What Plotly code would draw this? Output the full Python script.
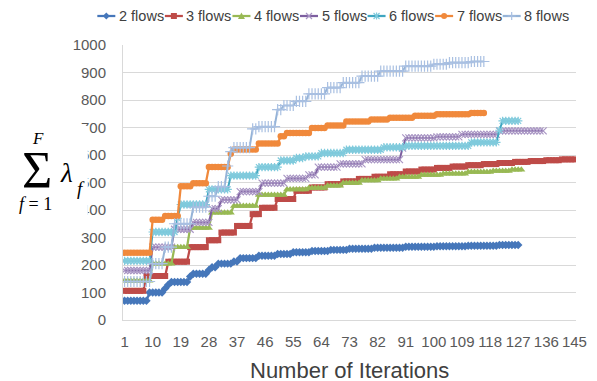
import plotly.graph_objects as go

# ---------------- data ----------------
series_names = ["2 flows", "3 flows", "4 flows", "5 flows", "6 flows", "7 flows", "8 flows"]

flows2 = (
    [70, 70, 70, 70, 70, 70, 70, 70]
    + [100, 100, 100, 100, 100]
    + [115, 128]
    + [138, 138, 138, 138, 138, 138]
    + [158]
    + [168, 168, 168, 168, 168]
    + [182, 192, 192]
    + [205, 205, 205, 205, 205]
    + [213, 213]
    + [225, 225, 225, 225, 225, 225]
    + [234, 234, 234, 234, 234, 234]
    + [240, 240, 240, 240, 240]
    + [246, 246, 246, 246, 246, 246]
    + [251, 251, 251, 251, 251, 251]
    + [255, 255, 255, 255, 255, 255]
    + [259, 259, 259, 259, 259, 259, 259, 259]
    + [263, 263, 263, 263, 263, 263, 263, 263, 263, 263]
    + [266, 266, 266, 266, 266, 266, 266, 266, 266, 266]
    + [268, 268, 268, 268, 268, 268, 268, 268, 268, 268]
    + [270, 270, 270, 270, 270, 270, 270, 270, 270, 270]
    + [273, 273, 273, 273, 273, 273, 273]
)

flows3 = (
    [106, 106, 106, 106, 106, 106, 106]
    + [160, 160, 160, 160, 160, 160, 160]
    + [212, 212, 212, 212, 212, 212, 212]
    + [265, 265, 265, 265, 265, 265]
    + [290, 290, 290, 290]
    + [318, 318, 318, 318, 318]
    + [342, 342, 342, 342, 342]
    + [385, 385, 385]
    + [408, 408, 408, 408, 408]
    + [440, 440, 440, 440, 440, 440]
    + [470, 470, 470, 470, 470]
    + [482, 482, 482, 482, 482]
    + [494, 494, 494, 494, 494]
    + [504, 504, 504, 504, 504]
    + [513, 513, 513, 513, 513]
    + [521, 521, 521, 521, 521]
    + [530, 530, 530, 530, 530]
    + [540, 540, 540, 540, 540]
    + [547, 547, 547, 547, 547]
    + [553, 553, 553, 553, 553]
    + [558, 558, 558, 558, 558]
    + [563, 563, 563, 563, 563]
    + [567, 567, 567, 567, 567]
    + [571, 571, 571, 571, 571]
    + [575, 575, 575, 575, 575]
    + [578, 578, 578, 578, 578]
    + [581, 581, 581, 581, 581]
    + [584, 584, 584, 584, 584]
)

flows4 = (
    [143, 143, 143, 143, 143, 143, 143, 143, 143]
    + [205, 205, 205, 205, 205, 205, 205]
    + [265, 265, 265, 265, 265]
    + [335, 335, 335, 335, 335, 335, 335]
    + [390, 390, 390, 390, 390, 390, 390]
    + [415, 415, 415, 415, 415, 415, 415, 415]
    + [455, 455, 455, 455, 455, 455, 455, 455, 455]
    + [475, 475, 475, 475, 475, 475, 475]
    + [480, 480, 480, 480, 480, 480]
    + [488, 488, 488, 488, 488]
    + [498, 498, 498, 498, 498, 498]
    + [507, 507, 507, 507, 507, 507]
    + [514, 514, 514, 514, 514, 514]
    + [520, 520, 520, 520, 520, 520, 520]
    + [527, 527, 527, 527, 527, 527, 527]
    + [532, 532, 532, 532, 532, 532, 532, 532]
    + [538, 538, 538, 538, 538, 538, 538, 538]
    + [542, 542, 542, 542, 542, 542]
    + [546, 546, 546, 546]
)

flows5 = (
    [180, 180, 180, 180, 180, 180, 180, 180, 180]
    + [265, 265, 265, 265, 265, 265, 265]
    + [330, 330, 330, 330, 330, 330]
    + [355, 355, 355, 355, 355, 355]
    + [405, 405, 405]
    + [437, 437, 437, 437, 437, 437]
    + [467, 467, 467, 467, 467, 467, 467]
    + [498, 498, 498, 498, 498, 498, 498, 498]
    + [515, 515, 515, 515, 515, 515, 515]
    + [528, 528, 528]
    + [556, 556, 556, 556, 556, 556, 556]
    + [568, 568, 568, 568, 568, 568, 568, 568]
    + [583, 583, 583, 583, 583, 583, 583, 583, 583, 583, 583, 583]
    + [625]
    + [662, 662, 662, 662, 662, 662, 662, 662, 662, 662]
    + [666, 666, 666, 666, 666, 666, 666, 666]
    + [675, 675, 675, 675, 675, 675, 675, 675, 675, 675, 675, 675]
    + [688, 688, 688, 688, 688, 688, 688, 688, 688, 688, 688, 688, 688, 688, 688]
)

flows6 = (
    [215, 215, 215, 215, 215, 215, 215, 215, 215]
    + [320, 320, 320, 320, 320, 320, 320, 320]
    + [370]
    + [420, 420, 420, 420, 420, 420, 420, 420, 420]
    + [475, 475, 475, 475, 475, 475, 475]
    + [525, 525, 525, 525, 525, 525, 525, 525, 525]
    + [556, 556, 556, 556, 556, 556, 556]
    + [580, 580, 580, 580, 580]
    + [589, 589, 589]
    + [595, 595, 595, 595, 595]
    + [607, 607, 607, 607, 607, 607, 607, 607]
    + [619, 619, 619, 619, 619, 619, 619, 619, 619, 619, 619, 619]
    + [628, 628, 628, 628, 628, 628, 628]
    + [633, 633, 633, 633, 633, 633, 633, 633, 633, 633, 633,
       633, 633, 633, 633, 633, 633, 633, 633, 633, 633]
    + [646, 646, 646, 646, 646, 646, 646, 646, 646]
    + [690]
    + [724, 724, 724, 724, 724, 724]
)

flows7 = (
    [245, 245, 245, 245, 245, 245, 245, 245, 245]
    + [365, 365, 365, 365]
    + [378, 378, 378, 378, 378]
    + [486, 486, 486, 486]
    + [497, 497, 497, 497, 497]
    + [556, 556, 556, 556, 556, 556, 556]
    + [605]
    + [620, 620, 620, 620, 620, 620, 620, 620]
    + [642, 642, 642, 642, 642, 642, 642]
    + [668, 668]
    + [680, 680, 680, 680, 680, 680, 680, 680]
    + [698, 698, 698, 698, 698]
    + [707, 707, 707, 707, 707, 707]
    + [722, 722, 722, 722, 722, 722, 722, 722]
    + [729, 729, 729, 729, 729, 729]
    + [735, 735, 735, 735, 735, 735, 735, 735]
    + [743, 743, 743, 743, 743, 743, 743]
    + [748, 748, 748, 748, 748, 748, 748, 748, 748, 748, 748]
    + [753, 753, 753, 753, 753]
)

flows8 = (
    [140, 140, 140, 140, 140, 140, 140, 140, 140]
    + [205, 205, 205, 205]
    + [265, 265, 265]
    + [350, 350, 350, 350, 350, 350]
    + [410, 410, 410, 410, 410]
    + [450, 450, 450]
    + [485, 485, 485]
    + [560, 612]
    + [627, 627, 627, 627, 627, 627]
    + [695, 695]
    + [703, 703, 703, 703, 703, 703]
    + [765, 765]
    + [780, 780, 780, 780]
    + [795, 795, 795, 795]
    + [822, 822, 822, 822, 822, 822]
    + [845, 845, 845, 845, 845]
    + [863, 863, 863, 863, 863, 863]
    + [887, 887, 887, 887, 887, 887]
    + [905, 905, 905, 905, 905, 905, 905, 905]
    + [923, 923, 923, 923, 923, 923, 923, 923, 923]
    + [930, 930, 930, 930, 930]
    + [936, 936, 936, 936, 936, 936, 936]
    + [940, 940, 940, 940, 940]
)

x_tick_labels = [1, 10, 19, 28, 37, 46, 55, 64, 73, 82, 91, 100, 109, 118, 127, 136, 145]
y_tick_values = [0, 100, 200, 300, 400, 500, 600, 700, 800, 900, 1000]

all_series = [flows2, flows3, flows4, flows5, flows6, flows7, flows8]

# ---------------- styles ----------------
W, H = 597, 381
ML, MR, MT, MB = 123, 10, 45, 61
PW, PH = W - ML - MR, H - MT - MB


def px_x(px):
    return (px - ML) / PW


def px_y(py):
    return (H - MB - py) / PH


line_colors = ["#4677BA", "#BE4B48", "#98B954", "#7D5FA0", "#3FA6C0", "#F0893C", "#95B3D7"]
marker_colors = ["#4677BA", "#BE4B48", "#98B954", "#A996C4", "#7FCADC", "#F0893C", "#A9C0E2"]
symbols = ["diamond", "square", "triangle-up", "x-thin-open", "asterisk-open", "circle", "cross-thin-open"]
msizes = [6.5, 6, 7, 7, 7, 6.5, 8]
lwidths = [2.25, 2.25, 2.25, 2, 2, 2.25, 2]

fig = go.Figure()
for name, vals, lc, mc, sym, ms, lw in zip(series_names, all_series, line_colors,
                                          marker_colors, symbols, msizes, lwidths):
    open_sym = sym.endswith("open")
    fig.add_trace(go.Scatter(
        x=list(range(1, len(vals) + 1)),
        y=vals,
        name=name,
        mode="lines+markers",
        line=dict(color=lc, width=lw),
        marker=dict(symbol=sym, size=ms, color=mc,
                    line=dict(color=mc, width=1.2 if open_sym else 0)),
        showlegend=False,
    ))

shapes = []
annotations = []

# custom compact legend (Excel style)
leg_y = px_y(16)
for i, name in enumerate(series_names):
    x0 = 96.7 + 69.2 * i
    anchor = px_x(x0)
    col = line_colors[i]
    mcol = marker_colors[i]
    shapes.append(dict(type="line", xref="paper", yref="paper",
                       xsizemode="pixel", ysizemode="pixel",
                       xanchor=anchor, yanchor=leg_y,
                       x0=0, x1=18, y0=0, y1=0,
                       line=dict(color=col, width=2.25)))
    c = 9
    if i == 0:
        path, fill = f"M {c-3.5} 0 L {c} 3.5 L {c+3.5} 0 L {c} -3.5 Z", True
    elif i == 1:
        path, fill = f"M {c-3} -3 L {c+3} -3 L {c+3} 3 L {c-3} 3 Z", True
    elif i == 2:
        path, fill = f"M {c-3.5} -3 L {c+3.5} -3 L {c} 3.5 Z", True
    elif i == 3:
        path, fill = f"M {c-3} -3 L {c+3} 3 M {c-3} 3 L {c+3} -3", False
    elif i == 4:
        path, fill = f"M {c} -3.5 L {c} 3.5 M {c-3} -3 L {c+3} 3 M {c-3} 3 L {c+3} -3", False
    elif i == 5:
        path, fill = None, True
    else:
        path, fill = f"M {c-4} 0 L {c+4} 0 M {c} -4 L {c} 4", False
    if i == 5:
        shapes.append(dict(type="circle", xref="paper", yref="paper",
                           xsizemode="pixel", ysizemode="pixel",
                           xanchor=anchor, yanchor=leg_y,
                           x0=c - 3, x1=c + 3, y0=-3, y1=3,
                           fillcolor=mcol, line=dict(color=mcol, width=0)))
    else:
        shapes.append(dict(type="path", xref="paper", yref="paper",
                           xsizemode="pixel", ysizemode="pixel",
                           xanchor=anchor, yanchor=leg_y, path=path,
                           fillcolor=mcol if fill else "rgba(0,0,0,0)",
                           line=dict(color=mcol, width=0 if fill else 1.2)))
    annotations.append(dict(text=name, xref="paper", yref="paper",
                            x=px_x(x0 + 20), y=leg_y, xanchor="left", yanchor="middle",
                            showarrow=False,
                            font=dict(family="Liberation Sans", size=14.5, color="#404040")))

# white patch of the pasted formula image that hides part of the y tick labels
shapes.append(dict(type="rect", xref="paper", yref="paper", layer="above",
                   x0=px_x(0), x1=px_x(87), y0=px_y(224), y1=px_y(126),
                   fillcolor="white", line=dict(width=0)))

serif = "Liberation Serif"
formula = [
    dict(text="<i>F</i>", x=px_x(36), y=px_y(138), font=dict(family=serif, size=17, color="black")),
    dict(text="Σ", x=px_x(35), y=px_y(170), font=dict(family=serif, size=52, color="black")),
    dict(text="<i>f</i> = 1", x=px_x(33), y=px_y(204), font=dict(family=serif, size=18, color="black")),
    dict(text="<i>λ</i>", x=px_x(65.5), y=px_y(173), font=dict(family=serif, size=27, color="black")),
    dict(text="<i>f</i>", x=px_x(79.5), y=px_y(188), font=dict(family=serif, size=19, color="black")),
]
for a in formula:
    a.update(xref="paper", yref="paper", xanchor="center", yanchor="middle", showarrow=False)
annotations += formula

annotations.append(dict(text="Number of Iterations", xref="paper", yref="paper",
                        x=0.5, y=px_y(370.5), xanchor="center", yanchor="middle",
                        showarrow=False,
                        font=dict(family="Liberation Sans", size=22, color="#404040")))

fig.update_layout(
    width=W, height=H,
    margin=dict(l=ML, r=MR, t=MT, b=MB),
    paper_bgcolor="white", plot_bgcolor="white",
    showlegend=False,
    shapes=shapes,
    annotations=annotations,
    font=dict(family="Liberation Sans", color="#595959"),
    xaxis=dict(range=[0.5, 145.5], tickmode="array", tickvals=x_tick_labels,
               ticktext=[str(v) for v in x_tick_labels],
               showgrid=False, zeroline=False, showline=True,
               linecolor="#D9D9D9", linewidth=1, ticks="",
               ticklabeloverflow="allow",
               tickfont=dict(size=15, color="#595959"), ticklabelstandoff=8),
    yaxis=dict(range=[0, 1000], tickmode="array", tickvals=y_tick_values,
               showgrid=True, gridcolor="#D9D9D9", gridwidth=1,
               zeroline=False, showline=True, linecolor="#D9D9D9", linewidth=1,
               ticks="", tickfont=dict(size=15, color="#595959"), ticklabelstandoff=13),
)

fig.write_html("out.html",
               config={"displayModeBar": False},
               post_script="document.body.style.margin='0px';"
                           "document.documentElement.style.margin='0px';")
